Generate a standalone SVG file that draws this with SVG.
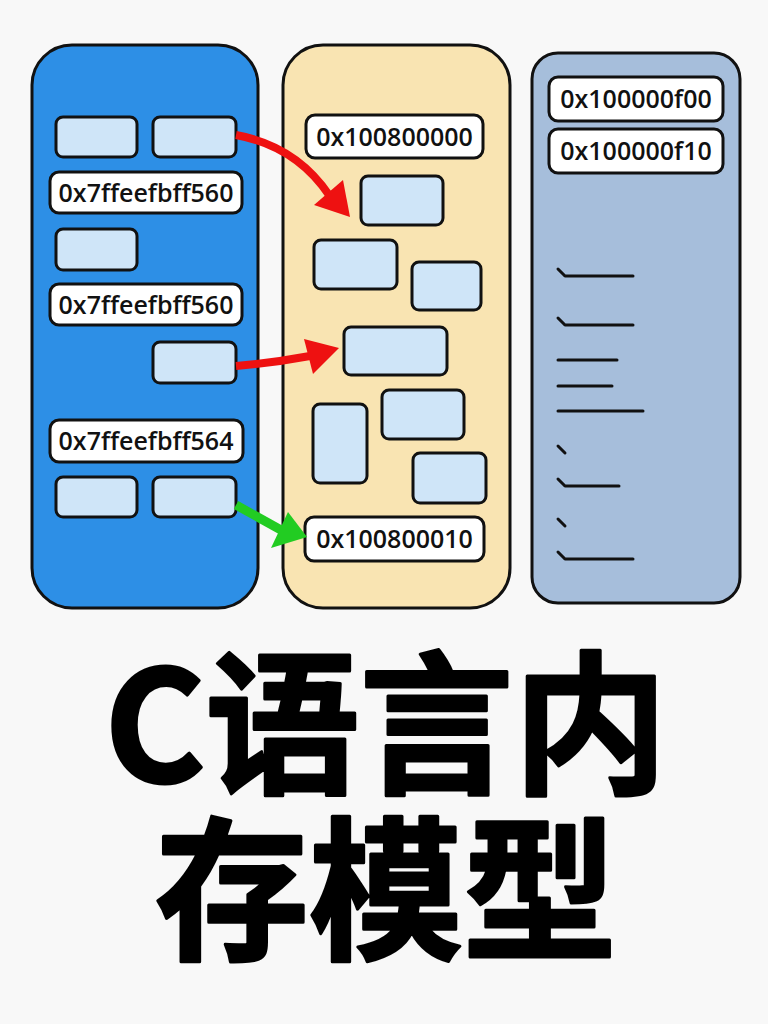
<svg xmlns="http://www.w3.org/2000/svg" width="768" height="1024" viewBox="0 0 768 1024">
<style>
.col{stroke:#111;stroke-width:3}
.box{fill:#cfe5f8;stroke:#111;stroke-width:3}
.lab{fill:#fff;stroke:#111;stroke-width:3}
.lt{font-family:"Open Sans","Noto Sans","DejaVu Sans",sans-serif;font-size:25px;font-weight:600;fill:#111;text-anchor:middle}
.mk{fill:none;stroke:#111;stroke-width:3;stroke-linecap:round;stroke-linejoin:round}
.title{font-family:"Noto Sans CJK SC","Noto Sans",sans-serif;font-weight:bold;font-size:154px;fill:#000;stroke:#000;stroke-width:3;stroke-linejoin:round;text-anchor:middle}
</style>
<rect width="768" height="1024" fill="#f8f8f8"/>
<g id="stack">
<rect class="col" x="32" y="45" width="226" height="563" rx="40" fill="#2d8fe6"/>
<rect class="box" x="56" y="117" width="81" height="40" rx="7"/>
<rect class="box" x="153" y="117" width="83" height="40" rx="7"/>
<rect class="lab" x="50" y="172" width="192" height="41" rx="9"/>
<text class="lt" x="146" y="202">0x7ffeefbff560</text>
<rect class="box" x="56" y="229" width="81" height="41" rx="7"/>
<rect class="lab" x="50" y="284" width="192" height="41" rx="9"/>
<text class="lt" x="146" y="314">0x7ffeefbff560</text>
<rect class="box" x="153" y="342" width="83" height="41" rx="7"/>
<rect class="lab" x="50" y="420" width="193" height="42" rx="9"/>
<text class="lt" x="146" y="450">0x7ffeefbff564</text>
<rect class="box" x="56" y="477" width="81" height="40" rx="7"/>
<rect class="box" x="153" y="477" width="83" height="40" rx="7"/>
</g>
<g id="heap">
<rect class="col" x="283" y="45" width="227" height="563" rx="40" fill="#f9e4b2"/>
<rect class="lab" x="306" y="115" width="177" height="43" rx="9"/>
<text class="lt" x="394.5" y="146">0x100800000</text>
<rect class="box" x="361" y="176" width="82" height="49" rx="7"/>
<rect class="box" x="314" y="240" width="83" height="49" rx="7"/>
<rect class="box" x="412" y="262" width="69" height="48" rx="7"/>
<rect class="box" x="344" y="327" width="103" height="48" rx="7"/>
<rect class="box" x="382" y="390" width="82" height="49" rx="7"/>
<rect class="box" x="313" y="404" width="54" height="79" rx="7"/>
<rect class="box" x="413" y="453" width="73" height="50" rx="7"/>
<rect class="lab" x="305" y="517" width="179" height="44" rx="9"/>
<text class="lt" x="394.5" y="548">0x100800010</text>
</g>
<g id="static">
<rect class="col" x="532" y="53" width="208" height="550" rx="26" fill="#a6bedb"/>
<rect class="lab" x="549" y="77" width="174" height="44" rx="9"/>
<text class="lt" x="636" y="108">0x100000f00</text>
<rect class="lab" x="549" y="129" width="174" height="44" rx="9"/>
<text class="lt" x="636" y="160">0x100000f10</text>
<path class="mk" d="M558,269 L565,276 L633,276"/>
<path class="mk" d="M558,318 L565,325 L633,325"/>
<path class="mk" d="M558,360 L617,360"/>
<path class="mk" d="M558,386 L612,386"/>
<path class="mk" d="M558,411 L643,411"/>
<path class="mk" d="M558,446 L565,453"/>
<path class="mk" d="M558,479 L565,486 L619,486"/>
<path class="mk" d="M558,519 L565,526"/>
<path class="mk" d="M558,552 L565,559 L633,559"/>
</g>
<g id="connectors">
<path d="M236,135 Q296,146 329,195" fill="none" stroke="#ee1111" stroke-width="8"/>
<polygon points="350,217 314,205 343,180" fill="#ee1111"/>
<path d="M236,366 Q272,363 310,356" fill="none" stroke="#ee1111" stroke-width="8"/>
<polygon points="339,348 304,339 313,374" fill="#ee1111"/>
<path d="M236,505 L281,530" fill="none" stroke="#22cc22" stroke-width="9"/>
<polygon points="307,537 271,548 288,512" fill="#22cc22"/>
</g>
<g id="title">
<text class="title" x="386" y="782">C语言内</text>
<text class="title" x="386" y="948">存模型</text>
</g>
</svg>
